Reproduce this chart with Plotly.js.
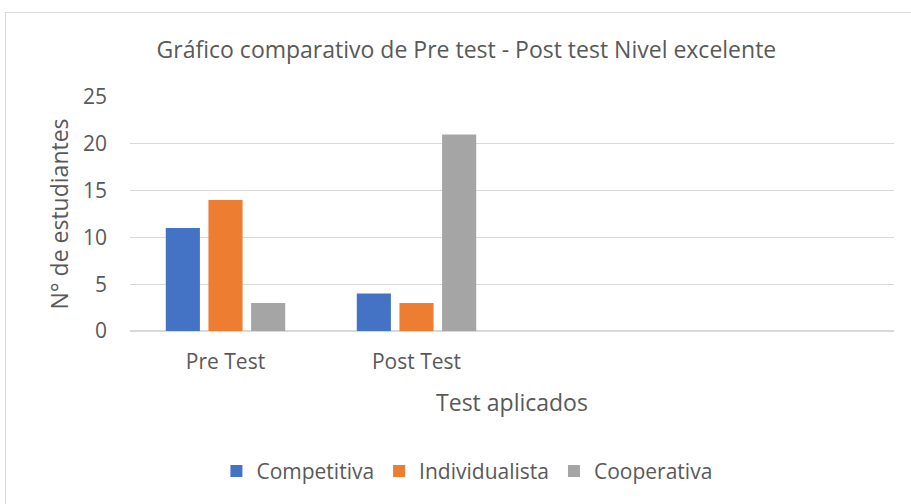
<!DOCTYPE html>
<html>
<head>
<meta charset="utf-8">
<script src="https://cdn.plot.ly/plotly-3.0.1.min.js"></script>
<style>
html,body{margin:0;padding:0;background:#fff;overflow:hidden;}
#frame{position:absolute;left:5px;top:12px;width:920px;height:510px;border-left:1px solid #d9d9d9;border-top:1px solid #d9d9d9;pointer-events:none;z-index:5;}
#chart{position:absolute;left:0;top:0;width:911px;height:504px;}
</style>
</head>
<body>
<div id="chart"></div>
<div id="frame"></div>
<script>
const categories = ["Pre Test", "Post Test"];
const seriesNames = ["Competitiva", "Individualista", "Cooperativa"];
const competitiva = [11, 4];
const individualista = [14, 3];
const cooperativa = [3, 21];
const yTicks = [0, 5, 10, 15, 20, 25];

const colors = ["#4472C4", "#ED7D31", "#A5A5A5"];
const values = [competitiva, individualista, cooperativa];
const font = "'Open Sans', Roboto, sans-serif";

const traces = seriesNames.map((name, i) => ({
  type: "bar",
  name: name,
  x: categories,
  y: values[i],
  marker: {color: colors[i]},
  hoverinfo: "y"
}));

const layout = {
  width: 911,
  height: 504,
  margin: {l: 130, r: 17, t: 97, b: 173},
  paper_bgcolor: "#ffffff",
  plot_bgcolor: "#ffffff",
  font: {family: font, color: "#595959"},
  barmode: "group",
  bargap: 0.33,
  bargroupgap: 0.2,
  title: {
    text: "Gráfico comparativo de Pre test - Post test Nivel excelente",
    font: {family: font, size: 23, color: "#595959"},
    x: 0.512, xanchor: "center",
    y: 0.9, yanchor: "middle",
    yref: "container"
  },
  xaxis: {
    type: "category",
    range: [-0.5, 3.5],
    showgrid: false,
    showline: false,
    zeroline: false,
    ticks: "",
    tickfont: {family: font, size: 21, color: "#595959"},
    ticklabelstandoff: 16,
    title: {text: "Test aplicados", font: {family: font, size: 23, color: "#595959"}, standoff: 20}
  },
  yaxis: {
    range: [0, 25],
    tickvals: yTicks,
    showgrid: true,
    gridcolor: "#d9d9d9",
    gridwidth: 1.3,
    zeroline: true,
    zerolinecolor: "#d9d9d9",
    zerolinewidth: 1.3,
    showline: false,
    ticks: "",
    ticklabelstandoff: 22,
    tickfont: {family: font, size: 21, color: "#595959"},
    title: {text: "N° de estudiantes", font: {family: font, size: 23, color: "#595959"}, standoff: 7}
  },
  showlegend: true,
  legend: {
    orientation: "h",
    x: 0.441, xanchor: "center",
    y: -0.6, yanchor: "middle",
    font: {family: font, size: 21, color: "#595959"},
    itemwidth: 30,
    traceorder: "normal"
  }
};

Plotly.newPlot("chart", traces, layout, {displayModeBar: false, staticPlot: true});
</script>
</body>
</html>
